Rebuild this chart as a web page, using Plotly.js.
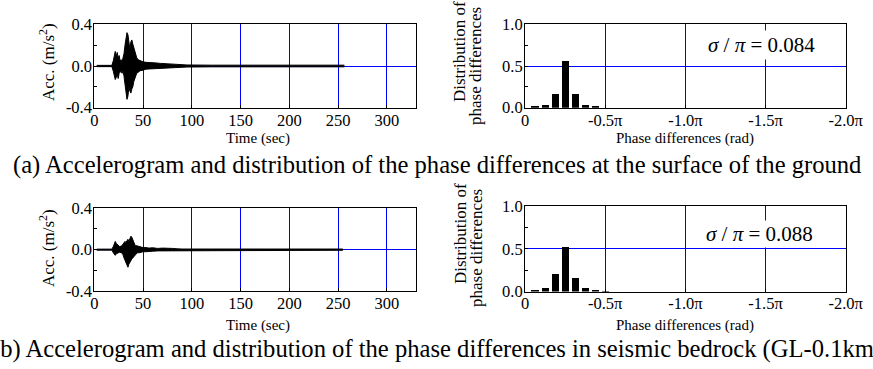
<!DOCTYPE html>
<html>
<head>
<meta charset="utf-8">
<script src="https://cdn.plot.ly/plotly-3.0.1.min.js"></script>
<style>html,body{margin:0;padding:0;background:#fff;}#chart{width:873px;height:369px;}</style>
</head>
<body>
<div id="chart"></div>
<script>
// ---- Accelerogram (a): surface of the ground (envelope) ----
const timeA = [2.5, 18, 19.5, 20.5, 21.5, 22.5, 23.5, 24.5, 25.5, 26.5, 27.5, 28.5, 29.5, 30.5, 31.5, 32.5, 33.5, 34.5, 35.5, 36.5, 37.5, 38.5, 39.5, 40.5, 41.5, 42.5, 43.5, 45, 47, 50, 53, 57, 62, 68, 75, 82, 88, 95, 120, 180, 256.5];
const upperA = [0.006, 0.006, 0.05, 0.12, 0.14, 0.09, 0.13, 0.08, 0.10, 0.05, 0.06, 0.04, 0.07, 0.12, 0.20, 0.29, 0.32, 0.30, 0.22, 0.16, 0.23, 0.25, 0.21, 0.17, 0.14, 0.10, 0.08, 0.06, 0.05, 0.04, 0.035, 0.03, 0.03, 0.025, 0.02, 0.02, 0.015, 0.01, 0.008, 0.008, 0.008];
const lowerA = [-0.006, -0.006, -0.05, -0.10, -0.13, -0.11, -0.08, -0.12, -0.07, -0.06, -0.05, -0.07, -0.04, -0.10, -0.18, -0.26, -0.32, -0.29, -0.20, -0.24, -0.26, -0.22, -0.20, -0.15, -0.12, -0.09, -0.07, -0.06, -0.045, -0.04, -0.03, -0.028, -0.025, -0.022, -0.018, -0.016, -0.012, -0.01, -0.008, -0.008, -0.008];

// ---- Accelerogram (b): seismic bedrock GL-0.1km ----
const timeB = [2.5, 18, 19.5, 20.5, 21.5, 22.5, 23.5, 24.5, 26, 28, 29.5, 30.5, 31.5, 32.5, 33.5, 34.5, 35.5, 36.5, 37.5, 38.5, 39.5, 40.5, 41.5, 42.5, 44, 46, 48, 50, 53, 56, 60, 65, 70, 75, 80, 85, 90, 120, 180, 255];
const upperB = [0.005, 0.005, 0.03, 0.07, 0.08, 0.06, 0.05, 0.04, 0.03, 0.035, 0.05, 0.07, 0.08, 0.07, 0.09, 0.10, 0.08, 0.11, 0.13, 0.12, 0.09, 0.07, 0.05, 0.04, 0.035, 0.03, 0.025, 0.02, 0.02, 0.015, 0.018, 0.012, 0.015, 0.01, 0.012, 0.008, 0.006, 0.006, 0.006, 0.006];
const lowerB = [-0.005, -0.005, -0.03, -0.05, -0.055, -0.04, -0.035, -0.03, -0.025, -0.03, -0.05, -0.08, -0.10, -0.12, -0.15, -0.17, -0.14, -0.12, -0.10, -0.09, -0.08, -0.07, -0.05, -0.04, -0.03, -0.03, -0.025, -0.02, -0.02, -0.015, -0.015, -0.012, -0.012, -0.01, -0.01, -0.008, -0.006, -0.006, -0.006, -0.006];

// ---- Distribution of phase differences (bin centres in units of pi) ----
const phaseBins = [-0.0625, -0.125, -0.1875, -0.25, -0.3125, -0.375, -0.4375, -0.5];
const distA = [0.015, 0.03, 0.165, 0.565, 0.17, 0.03, 0.015, 0];
const distB = [0.012, 0.043, 0.20, 0.52, 0.155, 0.043, 0.012, 0.01];
const sigmaA = "0.084";
const sigmaB = "0.088";

// ---- tick labels ----
const timeTicks = [0, 50, 100, 150, 200, 250, 300];
const accTicks = [-0.4, 0.0, 0.4];
const accTickText = ["-0.4", "0.0", "0.4"];
const phaseTicks = [0, -0.5, -1.0, -1.5, -2.0];
const phaseTickText = ["0", "-0.5\u03c0", "-1.0\u03c0", "-1.5\u03c0", "-2.0\u03c0"];
const distTicks = [0, 0.5, 1.0];
const distTickText = ["0.0", "0.5", "1.0"];

const W = 873, H = 369;
const px = v => v / W;
const py = v => 1 - v / H;
const FONT = "'Liberation Serif', 'Times New Roman', Times, serif";
const BLUE = "#0000ff";

function accTraces(t, up, lo, xa, ya) {
  return [
    {x: t, y: lo, xaxis: xa, yaxis: ya, type: "scatter", mode: "lines",
     line: {color: "#000", width: 1}, hoverinfo: "skip", showlegend: false},
    {x: t, y: up, xaxis: xa, yaxis: ya, type: "scatter", mode: "lines", fill: "tonexty",
     fillcolor: "#000", line: {color: "#000", width: 1}, hoverinfo: "skip", showlegend: false}
  ];
}
function barTrace(y, xa, ya) {
  return {x: phaseBins, y: y, xaxis: xa, yaxis: ya, type: "bar", width: 0.044,
          marker: {color: "#000", line: {width: 0}}, hoverinfo: "skip", showlegend: false};
}

const data = [
  ...accTraces(timeA, upperA, lowerA, "x", "y"),
  barTrace(distA, "x2", "y2"),
  ...accTraces(timeB, upperB, lowerB, "x3", "y3"),
  barTrace(distB, "x4", "y4")
];

const tickFont = {family: FONT, size: 16.5, color: "#000"};
const common = {showgrid: true, gridcolor: BLUE, gridwidth: 1, zeroline: false, showline: true,
  linecolor: "#000", linewidth: 1, mirror: true, ticks: "inside", ticklen: 3, tickcolor: "#000",
  tickfont: tickFont};
function timeAxis(dom, anchor) {
  return Object.assign({domain: dom, anchor: anchor, range: [0, 330], tickvals: timeTicks,
    ticktext: timeTicks.map(String), ticklabelstandoff: -3}, common);
}
function accAxis(dom, anchor) {
  return Object.assign({domain: dom, anchor: anchor, range: [-0.4, 0.4], tickvals: accTicks,
    ticktext: accTickText, ticklabelstandoff: -2,
    minor: {dtick: 0.2, ticks: "inside", ticklen: 3, tickcolor: "#000", showgrid: false}}, common);
}
function phaseAxis(dom, anchor) {
  return Object.assign({domain: dom, anchor: anchor, range: [0, -2], tickvals: phaseTicks,
    ticktext: phaseTickText, ticklabelstandoff: -3}, common);
}
function distAxis(dom, anchor) {
  return Object.assign({domain: dom, anchor: anchor, range: [0, 1], tickvals: distTicks,
    ticktext: distTickText, ticklabelstandoff: -2,
    minor: {dtick: 0.25, ticks: "inside", ticklen: 3, tickcolor: "#000", showgrid: false}}, common);
}

const L = [px(94.3), px(416)];
const R = [px(525), px(845.7)];
const TOP = [py(107.7), py(24.3)];
const BOTL = [py(291), py(208.3)];
const BOTR = [py(291.5), py(206)];

function txt(text, x, y, size, angle) {
  return {text: text, xref: "paper", yref: "paper", x: x, y: y, showarrow: false,
    textangle: angle || 0, xanchor: "center", yanchor: "middle",
    font: {family: FONT, size: size, color: "#000"}};
}

const annotations = [
  txt("Acc. (m/s<sup>2</sup>)", px(47), py(62), 17, -90),
  txt("Acc. (m/s<sup>2</sup>)", px(47), py(248), 17, -90),
  txt("Time (sec)", px(258), py(138), 15),
  txt("Time (sec)", px(258), py(325.5), 15),
  txt("Distribution of", px(460), py(52), 17, -90),
  txt("phase differences", px(476), py(66), 17, -90),
  txt("Distribution of", px(460), py(234), 17, -90),
  txt("phase differences", px(476), py(248), 17, -90),
  txt("Phase differences (rad)", px(685), py(138), 15),
  txt("Phase differences (rad)", px(685), py(325.5), 15),
  {text: "<i>\u03c3</i> / <i>\u03c0</i> = " + sigmaA, xref: "x2", yref: "y2", x: -1.475, y: 0.75,
   showarrow: false, bgcolor: "#fff", borderpad: 2, font: {family: FONT, size: 21, color: "#000"}},
  {text: "<i>\u03c3</i> / <i>\u03c0</i> = " + sigmaB, xref: "x4", yref: "y4", x: -1.46, y: 0.508,
   yanchor: "bottom", showarrow: false, bgcolor: "#fff", borderpad: 1,
   font: {family: FONT, size: 21, color: "#000"}},
  txt("(a) Accelerogram and distribution of the phase differences at the surface of the ground", 0.5, py(165), 24.6),
  txt("(b) Accelerogram and distribution of the phase differences in seismic bedrock (GL-0.1km)", 0.5, py(348.5), 24.6)
];

const layout = {
  width: W, height: H, margin: {l: 0, r: 0, t: 0, b: 0},
  paper_bgcolor: "#fff", plot_bgcolor: "#fff", showlegend: false,
  font: {family: FONT, color: "#000"},
  xaxis: timeAxis(L, "y"), yaxis: accAxis(TOP, "x"),
  xaxis2: phaseAxis(R, "y2"), yaxis2: distAxis(TOP, "x2"),
  xaxis3: timeAxis(L, "y3"), yaxis3: accAxis(BOTL, "x3"),
  xaxis4: phaseAxis(R, "y4"), yaxis4: distAxis(BOTR, "x4"),
  bargap: 0,
  annotations: annotations
};

Plotly.newPlot("chart", data, layout, {staticPlot: true, displayModeBar: false});
</script>
</body>
</html>
